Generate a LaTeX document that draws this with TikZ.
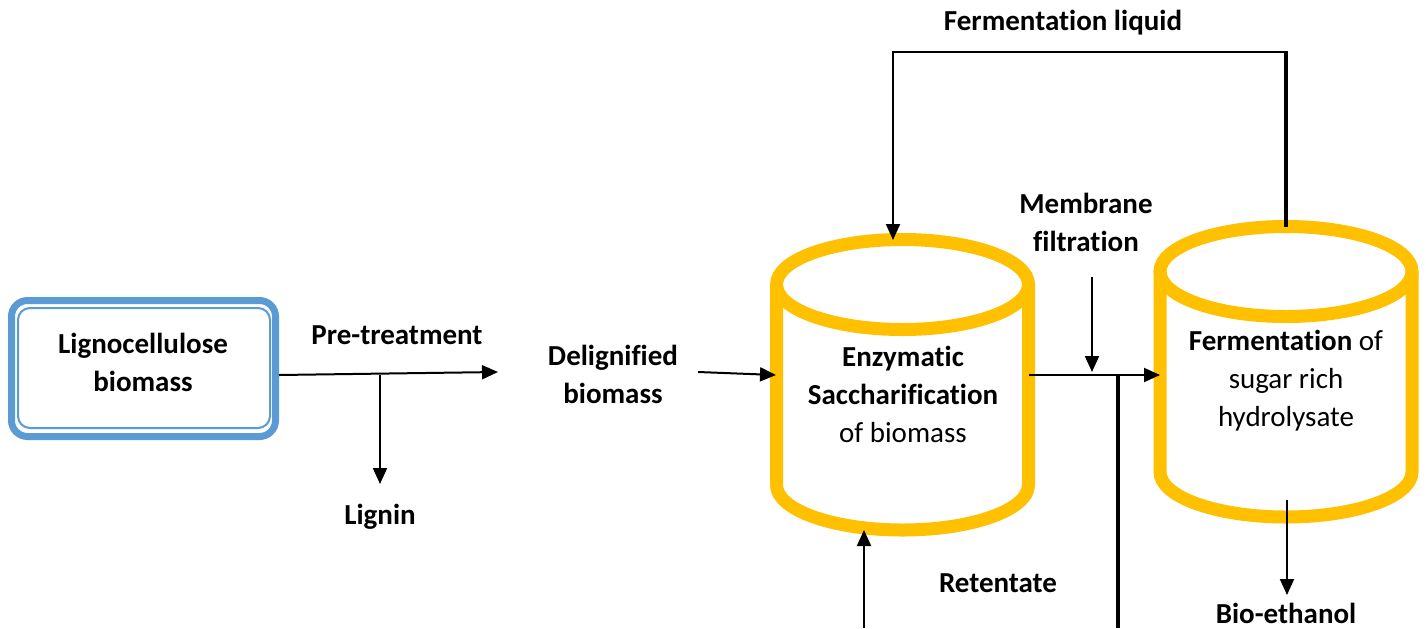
\documentclass[tikz,border=0pt]{standalone}
\usepackage{fontspec}
\setmainfont[Ligatures=NoCommon]{Carlito}
\usetikzlibrary{arrows.meta,calc}
\definecolor{tankgold}{HTML}{FFC000}
\definecolor{boxblue}{HTML}{5B9BD5}
\begin{document}
\begin{tikzpicture}[x=0.5pt,y=-0.5pt,
  lbl/.style={font=\fontsize{14.5}{19}\selectfont\bfseries, align=center, inner sep=0pt},
  txt/.style={font=\fontsize{14.5}{19}\selectfont, align=center, inner sep=0pt},
  arr/.style={-{Triangle[length=8pt,width=7pt]}, line width=1pt},
  pipe/.style={line width=1.75pt},
  tank/.style={draw=tankgold, line width=6.5pt}]
\useasboundingbox[fill=white] (0,0) rectangle (1426,628);

% feedstock box with double blue frame
\node[draw=boxblue, line width=3.5pt, rounded corners=8pt, minimum width=132pt,
      minimum height=68pt, inner sep=0pt] (lig) at (143.5,368.5) {};
\draw[boxblue, line width=1pt, rounded corners=6pt] (18,308) rectangle (270,428);
\node[lbl] (ligtxt) at (143,362) {Lignocellulose\\biomass};

% saccharification tank
\draw[tank] (902.5,284.5) ellipse [x radius=126, y radius=45];
\draw[tank] (776.5,284.5) -- (776.5,485)
  arc[start angle=180, end angle=0, x radius=126, y radius=45] -- (1028.5,284.5);
\node[lbl] (enz) at (903,394) {Enzymatic\\Saccharification\\\textmd{of biomass}};

% fermentation tank
\draw[tank] (1286,271.5) ellipse [x radius=126, y radius=45];
\draw[tank] (1160,271.5) -- (1160,472)
  arc[start angle=180, end angle=0, x radius=126, y radius=45] -- (1412,271.5);
\node[txt] (fer) at (1286,381) {\textbf{Fermentation} of\\sugar rich\\hydrolysate};

% labels
\node[lbl] (pretr) at (397,335) {Pre-treatment};
\node[lbl] (lignin) at (380,517) {Lignin};
\node[lbl] (delig) at (613,374) {Delignified\\biomass};
\node[lbl] (memb) at (1086,222) {Membrane\\filtration};
\node[lbl] (ret) at (998,583) {Retentate};
\node[lbl] (eth) at (1286,613) {Bio-ethanol};
\node[lbl] (fliq) at (1063,23) {Fermentation liquid};

% connector end points
\coordinate (preEnd) at (498,372);
\coordinate (ligBr) at (380,374.5);
\coordinate (ligTip) at (380,484);
\coordinate (delStart) at (698,372);
\coordinate (enzIn) at (776,375);
\coordinate (enzOut) at (1029,375);
\coordinate (ferIn) at (1160,375);
\coordinate (membTop) at (1092,277);
\coordinate (membTip) at (1092,372);
\coordinate (permJoin) at (1118,375);
\coordinate (permBot) at (1118,628);
\coordinate (retBot) at (864,628);
\coordinate (retTip) at (864,530);
\coordinate (ferTop) at (1286,227);
\coordinate (loopR) at (1286,52);
\coordinate (loopL) at (893,52);
\coordinate (enzTop) at (893,240);
\coordinate (ferBot) at (1287,500);
\coordinate (ethTip) at (1287,595);

% connectors
\draw[arr] ([yshift=-3.25pt]lig.east) -- (preEnd);
\draw[arr] (ligBr) -- (ligTip);
\draw[arr] (delStart) -- (enzIn);
\draw[arr] (enzOut) -- (ferIn);
\draw[arr] (membTop) -- (membTip);
\draw[pipe] (permJoin) -- (permBot);
\draw[arr] (retBot) -- (retTip);
\draw[pipe] (ferTop) -- ([yshift=0.5pt]loopR);
\draw[arr] (loopR) -- (loopL) -- (enzTop);
\draw[arr] (ferBot) -- (ethTip);
\end{tikzpicture}
\end{document}
